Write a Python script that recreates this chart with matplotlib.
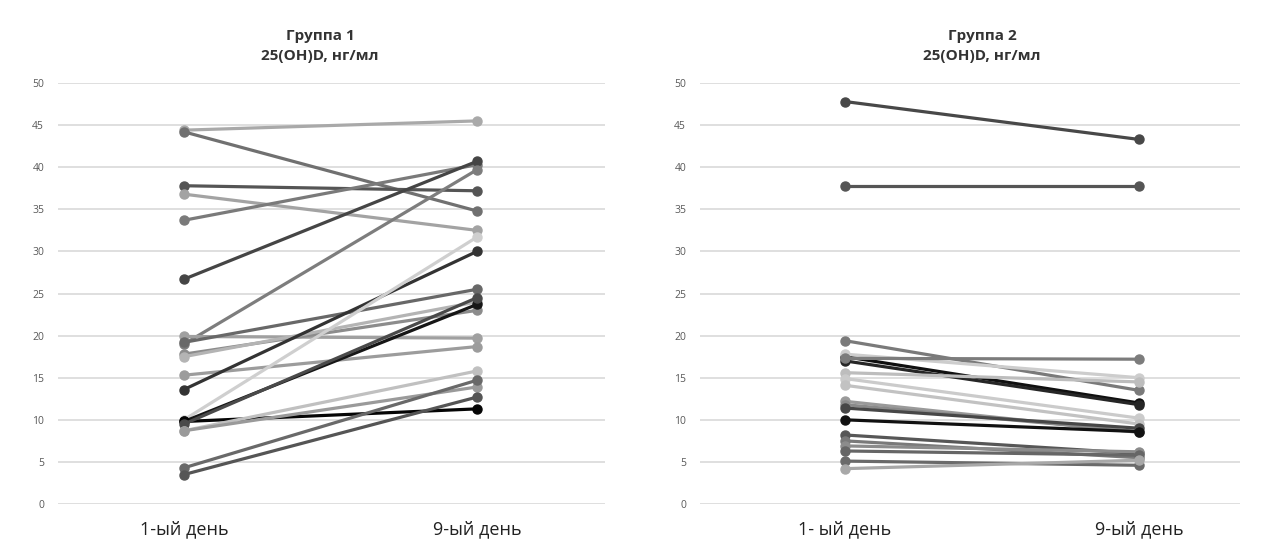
import matplotlib
matplotlib.use("Agg")
import matplotlib.pyplot as plt

plt.rcParams['font.family'] = ['Open Sans', 'DejaVu Sans']

days = ["1-ый день", "9-ый день"]
days_g2 = ["1- ый день", "9-ый день"]
yticks = list(range(0, 51, 5))

# group 1: (day 1, day 9) per patient
g1_day1 = [44.4, 44.2, 37.8, 36.8, 33.7, 26.7, 19.0, 19.9, 19.2, 17.8, 17.5,
           15.3, 13.6, 10.0, 9.8, 9.8, 9.5, 8.7, 8.7, 4.3, 3.5]
g1_day9 = [45.5, 34.8, 37.2, 32.5, 40.3, 40.7, 39.7, 19.7, 25.5, 23.0, 24.0,
           18.7, 30.0, 31.7, 23.7, 11.3, 24.5, 15.8, 13.9, 14.7, 12.7]
g1_colors = ["#a9a9a9", "#707070", "#555555", "#a3a3a3", "#7a7a7a", "#454545",
             "#7d7d7d", "#a0a0a0", "#686868", "#8c8c8c", "#b4b4b4",
             "#9c9c9c", "#333333", "#cfcfcf", "#161616", "#050505", "#4a4a4a",
             "#c0c0c0", "#9a9a9a", "#696969", "#555555"]

# group 2
g2_day1 = [47.8, 37.8, 19.4, 17.5, 17.0, 17.8, 17.3, 15.6, 14.9, 14.1,
           12.2, 11.8, 11.4, 10.0, 8.2, 7.5, 6.9, 6.3, 5.1, 4.2]
g2_day9 = [43.3, 37.8, 13.5, 12.0, 11.8, 15.0, 17.2, 14.5, 10.2, 9.5,
           8.5, 8.6, 9.0, 8.6, 6.0, 5.5, 6.2, 5.8, 4.6, 5.2]
g2_colors = ["#484848", "#555555", "#7a7a7a", "#101010", "#262626", "#cdcdcd",
             "#7c7c7c", "#bdbdbd", "#cbcbcb", "#c2c2c2",
             "#9a9a9a", "#8a8a8a", "#474747", "#111111", "#575757", "#7a7a7a",
             "#8c8c8c", "#666666", "#6a6a6a", "#a8a8a8"]

fig = plt.figure(figsize=(12.74, 5.44), dpi=100)
ax1 = fig.add_axes([58 / 1274, 0.0735, (605 - 58) / 1274, 0.7739])
ax2 = fig.add_axes([700 / 1274, 0.0735, (1240 - 700) / 1274, 0.7739])


def draw_panel(ax, d1, d9, colors, labels, xlim, title, tx):
    for a, b, c in zip(d1, d9, colors):
        ax.plot([0, 1], [a, b], color=c, lw=2.3, marker="o", ms=6.5,
                solid_capstyle="round", clip_on=False, zorder=3)
    ax.set_xlim(*xlim)
    ax.set_ylim(0, 50)
    ax.set_yticks(yticks)
    ax.set_xticks([0, 1])
    ax.set_xticklabels(labels, fontsize=13, color="#222222")
    ax.tick_params(axis="y", length=0, labelsize=7.5, labelcolor="#595959", pad=10)
    ax.tick_params(axis="x", length=0, pad=12)
    ax.grid(axis="y", color="#d9d9d9", lw=1.2)
    ax.set_axisbelow(True)
    for s in ax.spines.values():
        s.set_visible(False)
    fig.text(tx, 0.915, title, ha="center", va="center", fontsize=11,
             fontweight="bold", color="#333333", linespacing=1.5)


draw_panel(ax1, g1_day1, g1_day9, g1_colors, days, (-0.430, 1.437),
           "Группа 1\n25(OH)D, нг/мл", 320 / 1274)
draw_panel(ax2, g2_day1, g2_day9, g2_colors, days_g2, (-0.493, 1.344),
           "Группа 2\n25(OH)D, нг/мл", 982 / 1274)

fig.savefig("out.png", dpi=100)
